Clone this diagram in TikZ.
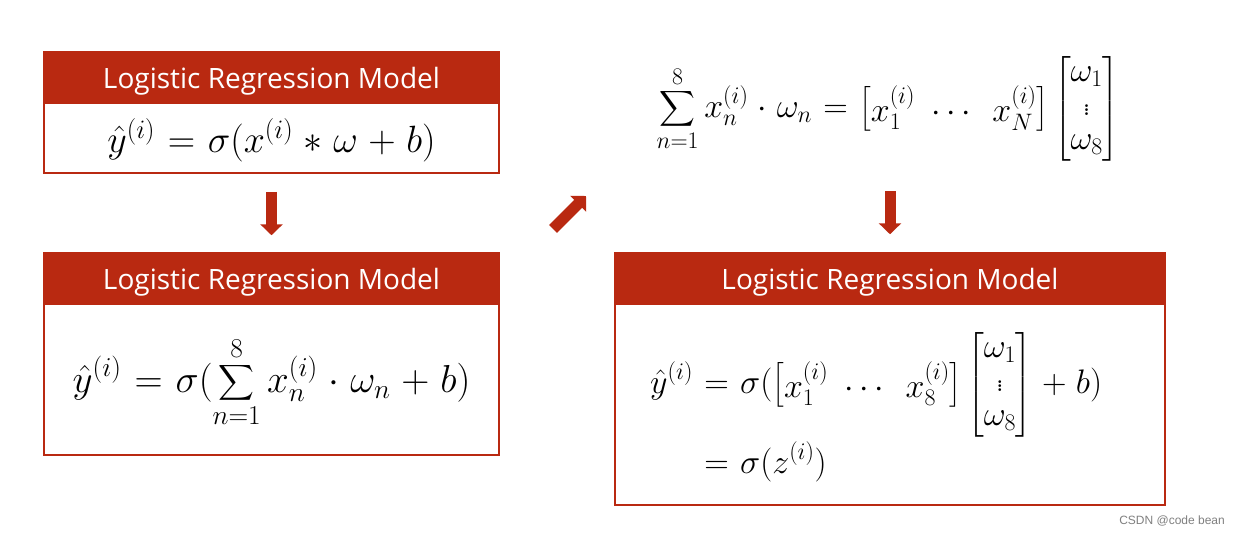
\RequirePackage{fix-cm}
\documentclass[tikz,border=0pt]{standalone}
\usepackage{amsmath}
\usepackage[no-math]{fontspec}
\newfontfamily\headfont{Open Sans}
\newfontfamily\markfont{Liberation Sans}
\usetikzlibrary{arrows.meta,positioning}
\definecolor{lrred}{RGB}{185,41,17}
\thickmuskip=6mu plus 3mu
\medmuskip=5mu plus 2mu minus 2mu
\newcommand{\rowvec}[1]{{\arraycolsep=8pt\begin{bmatrix} #1 \end{bmatrix}}}
\tikzset{
  boxframe/.style={draw=lrred, line width=1.5pt, fill=white, minimum width=455pt, inner sep=0pt},
  boxhead/.style={fill=lrred, text=white, minimum width=455pt, minimum height=53pt, inner sep=0pt, text depth=0pt, font=\headfont\fontsize{28}{34}\selectfont},
  eqtext/.style={font=\fontsize{34}{34}\selectfont, inner sep=0pt},
  bigarrow/.style={draw=lrred, line width=11pt, -{Triangle[width=22pt,length=11pt]}}
}
\begin{document}
\begin{tikzpicture}[x=1pt,y=-1pt]
      \useasboundingbox[fill=white] (0,0) rectangle (1238,536);
      % left column
      \node[boxframe, minimum height=121pt] (boxA) at (271.5,112.5) {};
      \node[boxhead, anchor=north] (headA) at (boxA.north) {Logistic Regression Model};
      \node[eqtext, font=\fontsize{38}{38}\selectfont] (eqA) at (271.5,140) {$\hat{y}^{(i)} = \sigma(x^{(i)} * \omega + b)$};
      \node[boxframe, minimum height=202pt] (boxB) at (271.5,354) {};
      \node[boxhead, anchor=north] (headB) at (boxB.north) {Logistic Regression Model};
      \node[eqtext, font=\fontsize{39}{39}\selectfont] (eqB) at (271.5,382) {$\displaystyle \hat{y}^{(i)} = \sigma(\sum_{n=1}^{8} x_n^{(i)} \cdot \omega_n + b)$};
      % right column
      \node[eqtext] (eqTop) at (888,109) {$\displaystyle \sum_{n=1}^{8} x_n^{(i)} \cdot \omega_n = \rowvec{x_1^{(i)} & \cdots & x_N^{(i)}} \begin{bmatrix} \omega_1 \\ \vdots \\ \omega_8 \end{bmatrix}$};
      \node[boxframe, minimum width=550pt, minimum height=252pt] (boxC) at (890,379) {};
      \node[boxhead, minimum width=550pt, anchor=north] (headC) at (boxC.north) {Logistic Regression Model};
      \node[eqtext, anchor=west] (eqC) at (650,408) {$\begin{aligned} \hat{y}^{(i)} &= \sigma(\rowvec{x_1^{(i)} & \cdots & x_8^{(i)}} \begin{bmatrix} \omega_1 \\ \vdots \\ \omega_8 \end{bmatrix} + b) \\ &= \sigma(z^{(i)}) \end{aligned}$};
      % arrows
      \coordinate (tailD) at (553,229);
      \coordinate (tipD) at (586,196);
      \draw[bigarrow] ([yshift=-18pt]boxA.south) -- ([yshift=17pt]boxB.north);
      \draw[bigarrow] (tailD) -- (tipD);
      \draw[bigarrow] ([yshift=61pt]boxC.north) -- ([yshift=18pt]boxC.north);
      \node[text=gray, font=\markfont\fontsize{12}{14}\selectfont, anchor=east, inner sep=0pt] (mark) at (1225,521) {CSDN @code bean};
\end{tikzpicture}
\end{document}
